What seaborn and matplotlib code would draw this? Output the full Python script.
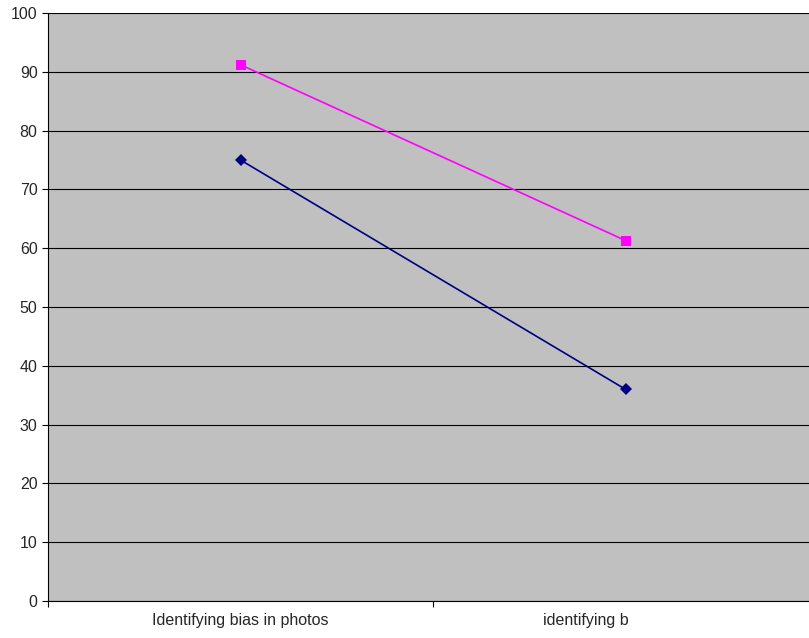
import matplotlib
matplotlib.use('Agg')
import matplotlib.pyplot as plt
import matplotlib.transforms as mtransforms
import seaborn as sns
import pandas as pd

categories = ['Identifying bias in photos', 'identifying b']
series_names = ['Series 1', 'Series 2']
series1 = [75, 36]
series2 = [91.2, 61.3]
y_ticks = list(range(0, 101, 10))

df = pd.DataFrame({
    'category': categories * 2,
    'value': series1 + series2,
    'series': [series_names[0]] * 2 + [series_names[1]] * 2,
})
df['pos'] = [0, 1, 0, 1]

sns.set_style('white')
plt.rcParams['font.family'] = ['Liberation Sans', 'DejaVu Sans']

fig = plt.figure(figsize=(8.09, 6.38), dpi=100)
ax = fig.add_axes([48 / 809, 37 / 638, 770 / 809, 588 / 638])
ax.set_facecolor('#C0C0C0')

sns.lineplot(data=df, x='pos', y='value', hue='series', style='series',
             palette={'Series 1': '#000080', 'Series 2': '#FF00FF'},
             markers={'Series 1': 'D', 'Series 2': 's'}, dashes=False,
             markersize=6.5, linewidth=1.2, markeredgewidth=0, legend=False, ax=ax)

ax.set_xlim(-0.5, 1.5)
ax.set_ylim(0, 100)
ax.set_yticks(y_ticks)
ax.yaxis.grid(True, color='#000000', linewidth=0.8)
ax.set_axisbelow(True)
ax.set_xlabel('')
ax.set_ylabel('')

ax.set_xticks([0, 1])
ax.set_xticklabels(categories)
ax.set_xticks([-0.5, 0.5, 1.5], minor=True)
ax.tick_params(axis='x', which='major', length=0, pad=9, labelsize=11.5)
ax.tick_params(axis='x', which='minor', length=4, width=0.8, direction='out', color='#000000')
ax.tick_params(axis='y', length=4, width=0.8, direction='out', pad=3.5, labelsize=11.5, color='#000000')
ax.xaxis.set_tick_params(which='both', bottom=True)
ax.yaxis.set_tick_params(left=True)

# second label sits left of its category in the original
lab = ax.get_xticklabels()[1]
lab.set_transform(lab.get_transform() + mtransforms.ScaledTranslation(-40 / 100, 0, fig.dpi_scale_trans))

for side in ['top', 'right']:
    ax.spines[side].set_visible(False)
for side in ['left', 'bottom']:
    ax.spines[side].set_color('#000000')
    ax.spines[side].set_linewidth(0.8)

fig.savefig('out.png', dpi=100)
